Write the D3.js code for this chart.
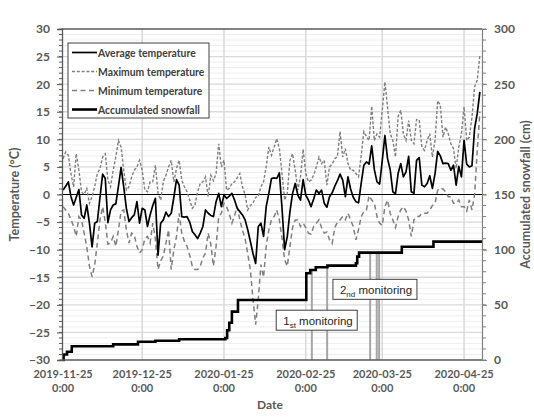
<!DOCTYPE html>
<html>
<head>
<meta charset="utf-8">
<script src="https://cdn.jsdelivr.net/npm/d3@7"></script>
<style>
  html, body { margin: 0; padding: 0; background: #fff; }
  svg { display: block; }
</style>
</head>
<body>
<svg id="chart" width="534" height="419"></svg>
<script>
// ---------------- DATA ----------------
const startDate = "2019-11-25";   // first daily value
const avgTemp = [
  0.8, 1.5, 2.3, -0.4, -1.9, -0.5, 0.9, -3.7, -4.3, -1.9,
  -5.2, -9.5, -5.2, -4.9, -0.5, 3.7, 2.9, -5.1, -2.8, -1.9,
  -1.7, 1.5, 4.9, 1.4, -2.5, -4.9, -4.2, -3.7, -1.3, -5.2,
  -2.5, -2.8, -5.8, -3.7, -2.0, -0.7, -11.0, -5.2, -4.6, -3.2,
  -4.0, -3.4, -0.5, 2.7, 1.7, -4.0, -4.1, -4.0, -5.0, -6.7,
  -7.3, -8.0, -7.0, -5.8, -2.8, -3.4, -3.8, -4.0, -1.3, 0.2,
  -2.2, -0.1, -0.7, -0.3, 0.2, -1.0, -2.5, -3.1, -3.7, -4.6,
  -6.4, -8.5, -10.7, -12.5, -5.8, -5.2, -7.6, -2.2, 0.2, 2.9,
  3.0, 2.9, 3.9, -2.5, -10.0, -7.6, -3.1, 0.2, 2.0, -0.1,
  -1.0, 2.7, -0.1, -1.0, -2.2, -0.8, 0.8, 0.2, 0.8, -1.6,
  -2.3, -0.4, 0.3, 1.5, 2.5, 3.7, 2.6, -0.4, 3.2, 1.0,
  -0.5, -1.3, -1.5, 2.0, 5.3, 5.9, 5.5, 8.8, 4.5, 2.3,
  1.9, 6.2, 10.7, 6.5, 4.5, 0.5, 0.1, 3.8, 5.6, 3.2,
  4.1, 6.9, 0.5, 0.2, 6.2, 6.7, 1.7, 1.4, 2.0, 3.4,
  1.1, 3.8, 7.8, 7.0, 5.6, 5.7, 5.6, 4.4, 5.3, 1.7,
  5.1, 3.2, 9.8, 5.5, 5.0, 5.2, 12.0, 14.7, 18.6
];
const maxTemp = [
  6.5, 7.7, 7.1, 3.8, 1.4, 7.4, 4.4, 0.5, 0.0, 1.1,
  -1.6, -0.4, 1.5, 3.8, 4.7, 6.8, 7.4, 2.6, 1.4, 4.4,
  6.8, 9.8, 8.6, 4.4, 0.8, 1.4, 3.2, 4.4, 5.0, 6.2,
  4.4, 0.8, 0.5, 2.3, 2.3, 5.3, 0.2, -1.0, 2.3, 3.5,
  5.0, 6.2, 2.3, 4.7, 6.2, 2.6, 1.4, 0.5, -1.0, -2.5,
  -1.9, 0.5, 2.0, 2.3, 3.2, -0.4, 3.5, 2.5, 3.8, 9.2,
  5.0, 6.2, 0.8, 1.1, 2.0, 2.3, 3.0, 3.8, 1.4, 0.0,
  -2.8, -2.0, -1.6, -0.5, -0.4, 1.4, 2.3, 5.0, 8.6, 7.1,
  8.6, 10.1, 8.3, 3.8, -1.0, 0.2, 6.2, 7.4, 4.4, 0.8,
  3.2, 8.2, 3.8, 2.3, 2.6, 3.5, 5.0, 6.8, 5.6, 6.2,
  1.7, 5.0, 5.5, 6.5, 6.9, 11.4, 6.8, 8.3, 5.6, 4.4,
  4.4, 3.8, 3.2, 7.0, 11.4, 10.5, 9.8, 16.0, 9.8, 11.0,
  10.4, 15.3, 20.4, 15.8, 11.0, 9.8, 6.8, 14.1, 15.3, 11.0,
  9.8, 13.4, 9.8, 9.2, 13.6, 13.5, 8.6, 8.0, 9.8, 11.0,
  6.8, 9.8, 17.0, 16.2, 10.4, 12.2, 11.0, 9.2, 8.3, 4.7,
  8.6, 11.0, 15.9, 9.8, 10.4, 14.0, 19.5, 20.7, 25.3
];
const minTemp = [
  -2.2, -2.8, -3.4, -4.5, -5.8, -7.6, -4.0, -4.6, -7.0, -9.5,
  -13.0, -14.9, -12.7, -8.8, -4.6, -2.2, -5.0, -9.0, -8.8, -7.6,
  -9.4, -6.4, -3.0, -2.8, -6.4, -8.8, -7.0, -7.4, -9.4, -10.6,
  -10.0, -8.0, -7.6, -8.8, -5.2, -8.0, -13.6, -12.0, -11.2, -8.8,
  -6.4, -13.6, -10.0, -7.6, -3.4, -7.0, -8.5, -9.4, -11.0, -13.0,
  -13.6, -13.6, -13.0, -11.5, -10.6, -7.0, -9.0, -13.0, -9.4, -4.0,
  -3.4, -1.6, -2.2, -3.5, -5.2, -3.8, -2.2, -4.6, -6.5, -8.0,
  -10.7, -13.7, -19.0, -23.6, -19.0, -12.7, -15.0, -9.4, -6.4, -4.6,
  -4.0, -2.8, -4.6, -8.0, -11.9, -13.0, -9.4, -6.0, -4.6, -4.6,
  -5.8, -5.2, -6.0, -7.0, -7.2, -5.8, -5.2, -4.6, -6.0, -7.0,
  -6.8, -8.2, -8.9, -6.0, -5.0, -4.6, -4.0, -4.6, -3.4, -4.6,
  -5.8, -8.2, -6.4, -4.0, -3.1, -2.8, -0.2, -1.0, -1.6, -4.0,
  -5.2, -5.6, -2.2, -1.0, -3.4, -4.6, -6.0, -4.0, -2.8, -2.2,
  -3.0, -4.6, -7.6, -4.6, -4.0, -4.0, -3.4, -3.4, -3.4, -2.8,
  -2.0, -1.6, 0.8, 1.2, 1.0, 0.5, -0.4, -0.4, -1.6, -1.6,
  -1.0, -2.2, -2.2, -3.0, -1.0, -2.8, 0.0, 8.0, 15.0
];
// accumulated snowfall: change points (days after startDate) and values (cm)
const snowDays   = [0, 0.2, 1.5, 3.3, 19, 28.4, 35, 44, 61.5, 62.2, 63, 64, 66.3, 92.2, 93.7, 95.8, 100.2, 111, 111.5, 112.2, 128.4, 140.4, 158.8];
const snowValues = [0, 5, 7.5, 12.5, 14.2, 16.6, 17.5, 18.8, 20, 27, 33.8, 43.8, 54.4, 78.6, 81.6, 84, 85.5, 87.7, 93.7, 97.3, 102.7, 107.3, 107.3];
// monitoring dates (days after startDate)
const monitoringDays = [94.3, 100.1, 116.4, 118.9, 119.8];
// x-axis tick labels
const xTickDates = ["2019-11-25", "2019-12-25", "2020-01-25", "2020-02-25", "2020-03-25", "2020-04-25"];
const xTickTime = "0:00";
const tempTicks = [-30, -25, -20, -15, -10, -5, 0, 5, 10, 15, 20, 25, 30];
const snowTicks = [0, 50, 100, 150, 200, 250, 300];
const legendLabels = ["Average temperature", "Maximum temperature", "Minimum temperature", "Accumulated snowfall"];
const annotations = [
  { main: "1", sub: "st", rest: " monitoring", day: 80.8, cm: 27 },
  { main: "2", sub: "nd", rest: " monitoring", day: 102.3, cm: 55 }
];

// ---------------- DRAW ----------------
(function () {
const svg = d3.select("#chart");
const W = 534, H = 419;
const pL = 62, pR = 482, pT = 29, pB = 360;
const parse = d3.timeParse("%Y-%m-%d");
const t0 = parse(startDate);
const dayToDate = d => new Date(t0.getTime() + d * 86400000);

const x = d3.scaleTime().domain([dayToDate(-0.4), dayToDate(158.8)]).range([pL, pR]);
const yT = d3.scaleLinear().domain([-30, 30]).range([pB, pT]);
const yS = d3.scaleLinear().domain([0, 300]).range([pB, pT]);

const FONT = "Lato, 'Liberation Sans', sans-serif";
const axisGrey = "#595959";

svg.append("rect").attr("width", W).attr("height", H).attr("fill", "#fff");

const g = svg.append("g");
g.selectAll(".minor").data(d3.range(-29, 30, 1).filter(v => v % 5 !== 0)).join("line")
  .attr("x1", pL).attr("x2", pR)
  .attr("y1", d => yT(d)).attr("y2", d => yT(d))
  .attr("stroke", "#eeeeee").attr("stroke-width", 1);
g.selectAll(".major").data(tempTicks.filter(v => v !== 0 && v !== -30 && v !== 30)).join("line")
  .attr("x1", pL).attr("x2", pR)
  .attr("y1", d => yT(d)).attr("y2", d => yT(d))
  .attr("stroke", "#d9d9d9").attr("stroke-width", 1.3);
g.selectAll(".vgrid").data(xTickDates.slice(1)).join("line")
  .attr("x1", d => x(parse(d))).attr("x2", d => x(parse(d)))
  .attr("y1", pT).attr("y2", pB)
  .attr("stroke", "#d9d9d9").attr("stroke-width", 1.5);

const snowAt = d => { let v = 0; snowDays.forEach((s, i) => { if (s <= d) v = snowValues[i]; }); return v; };
svg.selectAll(".mon").data(monitoringDays).join("line")
  .attr("x1", d => x(dayToDate(d))).attr("x2", d => x(dayToDate(d)))
  .attr("y1", pB).attr("y2", d => yS(snowAt(d)))
  .attr("stroke", "#a6a6a6").attr("stroke-width", 2);

svg.append("line").attr("x1", pL).attr("x2", pR)
  .attr("y1", yT(0)).attr("y2", yT(0))
  .attr("stroke", "#000").attr("stroke-width", 1.2);

const line = d3.line().x((d, i) => x(dayToDate(i))).y(d => yT(d));
svg.append("path").datum(minTemp).attr("d", line)
  .attr("fill", "none").attr("stroke", "#7f7f7f").attr("stroke-width", 1.5)
  .attr("stroke-dasharray", "5,3.5");
svg.append("path").datum(maxTemp).attr("d", line)
  .attr("fill", "none").attr("stroke", "#7f7f7f").attr("stroke-width", 1.4)
  .attr("stroke-dasharray", "3,1.8");
svg.append("path").datum(avgTemp).attr("d", line)
  .attr("fill", "none").attr("stroke", "#000").attr("stroke-width", 1.7)
  .attr("stroke-linejoin", "round");

const snowLine = d3.line().curve(d3.curveStepAfter)
  .x((d, i) => x(dayToDate(snowDays[i]))).y(d => yS(d));
svg.append("path").datum(snowValues).attr("d", snowLine)
  .attr("fill", "none").attr("stroke", "#000").attr("stroke-width", 2.6);

const ann = svg.selectAll(".ann").data(annotations).join("g")
  .attr("transform", d => `translate(${x(dayToDate(d.day))},${yS(d.cm)})`);
ann.append("rect").attr("width", (d, i) => i === 0 ? 81 : 84).attr("height", 20).attr("y", -20)
  .attr("fill", "#fff").attr("stroke", "#404040").attr("stroke-width", 1);
const at = ann.append("text").attr("x", 7).attr("y", -5.5)
  .attr("font-family", "'Liberation Sans', Arial, sans-serif").attr("font-size", 11.5).attr("fill", "#262626");
at.append("tspan").text(d => d.main);
at.append("tspan").attr("font-size", 8).attr("dy", 3).text(d => d.sub);
at.append("tspan").attr("dy", -3).text(d => d.rest);

svg.append("line").attr("x1", pL).attr("x2", pR).attr("y1", pT).attr("y2", pT)
  .attr("stroke", "#595959").attr("stroke-width", 1.3);
svg.append("line").attr("x1", pL).attr("x2", pR).attr("y1", pB).attr("y2", pB)
  .attr("stroke", "#595959").attr("stroke-width", 1.3);

const yAxisL = d3.axisLeft(yT).tickValues(tempTicks).tickSize(5).tickPadding(7);
const gl = svg.append("g").attr("transform", `translate(${pL},0)`).call(yAxisL);
gl.selectAll("line").attr("stroke", "#595959");
gl.select(".domain").attr("stroke", "#595959").attr("stroke-width", 1.3);
gl.selectAll("text").attr("font-family", FONT).attr("font-weight", "bold").attr("font-size", 12).attr("fill", axisGrey);
gl.selectAll(".mt").data(d3.range(-30, 31, 1)).join("line").attr("class", "mt")
  .attr("x1", -3).attr("x2", 0).attr("y1", d => yT(d)).attr("y2", d => yT(d))
  .attr("stroke", "#595959");

const yAxisR = d3.axisRight(yS).tickValues(snowTicks).tickSize(5).tickPadding(7);
const gr = svg.append("g").attr("transform", `translate(${pR},0)`).call(yAxisR);
gr.selectAll("line").attr("stroke", "#808080");
gr.select(".domain").attr("stroke", "#808080").attr("stroke-width", 1.2);
gr.selectAll("text").attr("font-family", FONT).attr("font-weight", "bold").attr("font-size", 12).attr("fill", axisGrey);
gr.selectAll(".mt").data(d3.range(0, 301, 10)).join("line").attr("class", "mt")
  .attr("x1", 0).attr("x2", 4).attr("y1", d => yS(d)).attr("y2", d => yS(d))
  .attr("stroke", "#808080");

const xl = svg.selectAll(".xl").data(xTickDates).join("g")
  .attr("transform", d => `translate(${x(parse(d))},0)`);
xl.append("text").attr("y", 378).attr("text-anchor", "middle").text(d => d)
  .attr("font-family", FONT).attr("font-weight", "bold").attr("font-size", 11).attr("fill", axisGrey);
xl.append("text").attr("y", 392).attr("text-anchor", "middle").text(xTickTime)
  .attr("font-family", FONT).attr("font-weight", "bold").attr("font-size", 11).attr("fill", axisGrey);

svg.append("text").attr("x", (pL + pR) / 2 - 2).attr("y", 409).attr("text-anchor", "middle")
  .attr("font-family", FONT).attr("font-weight", "bold").attr("font-size", 12).attr("fill", axisGrey).text("Date");
svg.append("text").attr("transform", `translate(19,${(pT + pB) / 2}) rotate(-90)`).attr("text-anchor", "middle")
  .attr("font-family", FONT).attr("font-weight", "bold").attr("font-size", 12.5).attr("fill", axisGrey).text("Temperature (°C)");
svg.append("text").attr("transform", `translate(530,${(pT + pB) / 2}) rotate(-90)`).attr("text-anchor", "middle")
  .attr("font-family", FONT).attr("font-weight", "bold").attr("font-size", 12.5).attr("fill", axisGrey).text("Accumulated snowfall (cm)");

const lg = svg.append("g").attr("transform", "translate(68,43)");
lg.append("rect").attr("width", 141).attr("height", 75).attr("fill", "#fff")
  .attr("stroke", "#404040").attr("stroke-width", 1);
const legendStyles = [
  { stroke: "#000", w: 1.7, dash: null },
  { stroke: "#7f7f7f", w: 1.4, dash: "3,1.8" },
  { stroke: "#7f7f7f", w: 1.5, dash: "5,3.5" },
  { stroke: "#000", w: 2.6, dash: null }
];
const li = lg.selectAll(".li").data(legendLabels).join("g")
  .attr("transform", (d, i) => `translate(0,${9.5 + i * 19})`);
li.append("line").attr("x1", 4).attr("x2", 29).attr("y1", 0).attr("y2", 0)
  .attr("stroke", (d, i) => legendStyles[i].stroke)
  .attr("stroke-width", (d, i) => legendStyles[i].w)
  .attr("stroke-dasharray", (d, i) => legendStyles[i].dash);
li.append("text").attr("x", 30).attr("y", 4).text(d => d)
  .attr("font-family", FONT).attr("font-weight", "bold").attr("font-size", 10.4).attr("fill", "#404040");
})();
</script>
</body>
</html>
